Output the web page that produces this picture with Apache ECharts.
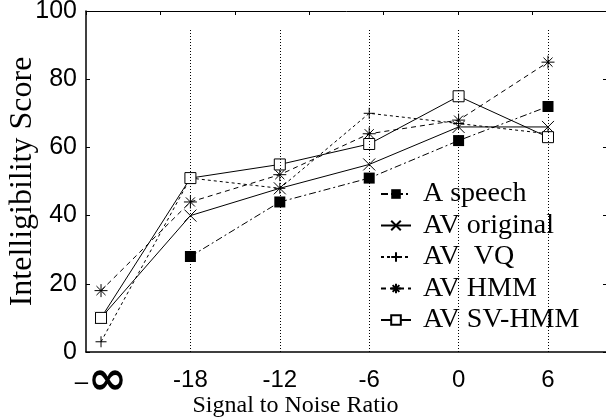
<!DOCTYPE html>
<html>
<head>
<meta charset="utf-8">
<script src="https://cdn.jsdelivr.net/npm/echarts@6/dist/echarts.min.js"></script>
<style>
  html, body { margin: 0; padding: 0; background: #fff; }
  #chart { width: 606px; height: 418px; }
</style>
</head>
<body>
<div id="chart"></div>
<script>
// categories on the x axis (SNR in dB)
var snrLabels = ['-∞', '-18', '-12', '-6', '0', '6'];

// intelligibility scores
var aSpeech    = [null, 28, 44, 51, 62, 72];
var avOriginal = [10, 40, 48, 55, 66, 66];
var avVQ       = [3, 51, 48, 70, 67, 64];
var avHMM      = [18, 44, 52, 64, 68, 85];
var avSVHMM    = [10, 51, 55, 61, 75, 63];

// turn a value list into [categoryIndex, value] pairs
function pairs(arr) {
	return arr.map(function (v, i) { return [i, v == null ? '-' : v]; });
}

var crossPath = 'path://M0,0L10,10M10,0L0,10';
var plusPath  = 'path://M5,0L5,10M0,5L10,5';
var starPath  = 'path://M5,0L5,10M0,5L10,5M1.5,1.5L8.5,8.5M8.5,1.5L1.5,8.5';

var strokeOnly = { color: 'none', borderColor: '#000', borderWidth: 1 };

var chart = echarts.init(document.getElementById('chart'));

var option = {
	animation: false,
	backgroundColor: '#fff',
	grid: { left: 86, top: 11, width: 521, height: 341, outerBoundsMode: 'none', containLabel: false },
	legend: {
		orient: 'vertical',
		left: 380,
		top: 180,
		padding: 0,
		itemGap: 3.5,
		itemWidth: 30,
		itemHeight: 12,
		textStyle: { fontFamily: 'Liberation Serif', fontSize: 28, color: '#000', padding: [0, 0, 0, 7] },
		data: ['A speech', 'AV original', 'AV  VQ', 'AV HMM', 'AV SV-HMM']
	},
	xAxis: [
		{
			type: 'value',
			min: -0.168,
			max: 5.66,
			splitLine: { show: false },
			axisTick: { show: false },
			axisLine: { onZero: false, lineStyle: { color: '#000', width: 1.5 } },
			axisLabel: {
				customValues: [0, 1, 2, 3, 4, 5],
				margin: 16,
				fontFamily: 'Liberation Sans',
				fontSize: 24,
				color: '#000',
				formatter: function (v) {
					var s = snrLabels[Math.round(v)];
					if (s === '-∞') return '{d|–}{inf|∞}';
					return s;
				},
				rich: {
					d: { fontFamily: 'Liberation Sans', fontSize: 24, color: '#000', padding: [0, 0, 0, 0] },
					inf: { fontFamily: 'DejaVu Sans', fontWeight: 'bold', fontSize: 47, color: '#000', lineHeight: 28 }
				}
			},
			name: 'Signal to Noise Ratio',
			nameLocation: 'middle',
			nameGap: 42,
			nameMoveOverlap: false,
			nameTextStyle: { fontFamily: 'Liberation Serif', fontSize: 24, color: '#000', padding: [0, 102, 0, 0] }
		},
		{
			type: 'value',
			position: 'top',
			min: 0,
			max: 7,
			interval: 1,
			splitLine: { show: false },
			axisLabel: { show: false },
			axisLine: { onZero: false, lineStyle: { color: '#000', width: 1 } },
			axisTick: { inside: true, length: 4, lineStyle: { color: '#000' } }
		}
	],
	yAxis: [
		{
			type: 'value',
			min: 0,
			max: 100,
			interval: 20,
			splitLine: { show: false },
			axisLine: { show: true, onZero: false, lineStyle: { color: '#000', width: 1.5 } },
			axisTick: { show: true, inside: true, length: 4, lineStyle: { color: '#000' } },
			axisLabel: { margin: 9, fontFamily: 'Liberation Sans', fontSize: 25, color: '#000' },
			name: 'Intelligibility Score',
			nameLocation: 'middle',
			nameGap: 47,
			nameMoveOverlap: false,
			nameTextStyle: { fontFamily: 'Liberation Serif', fontSize: 32, color: '#000' }
		},
		{
			type: 'value',
			position: 'right',
			min: 0,
			max: 100,
			interval: 20,
			splitLine: { show: false },
			axisLabel: { show: false },
			axisLine: { show: true, onZero: false, lineStyle: { color: '#000', width: 1 } },
			axisTick: { show: true, inside: true, length: 4, lineStyle: { color: '#000' } }
		}
	],
	series: [
		{
			name: 'A speech',
			type: 'line',
			data: pairs(aSpeech),
			symbol: 'rect',
			symbolSize: 11,
			itemStyle: { color: '#000' },
			lineStyle: { color: '#000', width: 1, type: [7, 3, 2, 3] },
			markLine: {
				silent: true,
				symbol: 'none',
				label: { show: false },
				lineStyle: { color: '#000', width: 1, type: [1, 2] },
				data: [1, 2, 3, 4, 5].map(function (i) {
					return [{ coord: [i, 0] }, { coord: [i, 95] }];
				})
			}
		},
		{
			name: 'AV original',
			type: 'line',
			data: pairs(avOriginal),
			symbol: crossPath,
			symbolSize: 12,
			itemStyle: strokeOnly,
			lineStyle: { color: '#000', width: 1 }
		},
		{
			name: 'AV  VQ',
			type: 'line',
			data: pairs(avVQ),
			symbol: plusPath,
			symbolSize: 11,
			itemStyle: strokeOnly,
			lineStyle: { color: '#000', width: 1, type: [3, 3] }
		},
		{
			name: 'AV HMM',
			type: 'line',
			data: pairs(avHMM),
			symbol: starPath,
			symbolSize: 13,
			itemStyle: strokeOnly,
			lineStyle: { color: '#000', width: 1, type: [5, 4] }
		},
		{
			name: 'AV SV-HMM',
			type: 'line',
			data: pairs(avSVHMM),
			symbol: 'rect',
			symbolSize: 11,
			itemStyle: { color: '#fff', borderColor: '#000', borderWidth: 1 },
			lineStyle: { color: '#000', width: 1 }
		}
	]
};

chart.setOption(option);
</script>
</body>
</html>
